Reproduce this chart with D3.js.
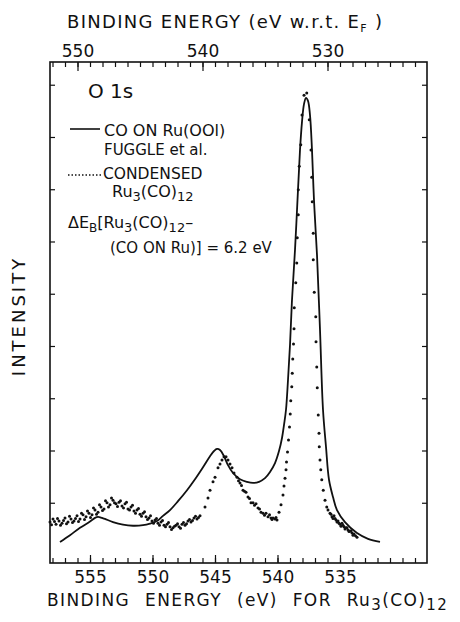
<!DOCTYPE html>
<html>
<head>
<meta charset="utf-8">
<script src="https://cdn.jsdelivr.net/npm/d3@7"></script>
<style>
  html, body { margin: 0; padding: 0; background: #fff; }
  svg { display: block; }
  text { font-family: "DejaVu Sans", sans-serif; fill: #111; }
</style>
</head>
<body>
<svg id="chart" width="460" height="622"></svg>
<script>
// ---- data (binding energy in eV on the Ru3(CO)12 scale, intensity in arb. units) ----
const bottomTickLabels = [555, 550, 545, 540, 535];
const topTickLabels = [550, 540, 530];
const intensityTicks = [1, 2, 3, 4, 5, 6, 7, 8, 9];
const energyShift = 6; // top axis (w.r.t. E_F) = bottom axis - 6 eV

// CO on Ru(001), Fuggle et al. (solid line)
const solidE = [557.40,556.60,555.80,555.00,554.60,554.36,554.04,553.80,553.16,552.36,551.56,550.76,550.20,549.64,549.16,548.60,547.96,547.24,546.60,545.96,545.40,545.08,544.84,544.60,544.28,543.96,543.56,543.00,542.44,541.96,541.48,541.00,540.60,540.20,539.88,539.64,539.48,539.32,539.16,539.00,538.84,538.60,538.36,538.20,538.04,537.88,537.72,537.56,537.40,537.24,537.08,536.84,536.60,536.36,536.12,535.88,535.56,535.24,534.60,533.64,532.76,531.80];
const solidI = [0.25,0.38,0.52,0.64,0.71,0.73,0.71,0.69,0.63,0.58,0.56,0.57,0.60,0.65,0.75,0.86,1.03,1.24,1.45,1.68,1.89,1.99,2.03,2.01,1.89,1.72,1.57,1.45,1.40,1.38,1.40,1.47,1.59,1.76,1.99,2.24,2.49,2.78,3.35,4.02,4.88,5.84,6.99,7.75,8.29,8.63,8.75,8.69,8.42,7.75,6.79,5.74,4.31,2.78,2.07,1.44,1.11,0.86,0.63,0.42,0.31,0.25];

// Condensed Ru3(CO)12 (data points)
const dotE = [558.20,557.96,557.72,557.48,557.24,557.00,556.76,556.52,556.28,556.04,555.80,555.56,555.32,555.08,554.84,554.60,554.36,554.12,553.88,553.64,553.40,553.16,552.92,552.68,552.44,552.20,551.96,551.72,551.48,551.24,551.00,550.76,550.52,550.28,550.04,549.80,549.56,549.32,549.08,548.84,548.60,548.36,548.12,547.88,547.64,547.40,547.16,546.92,546.68,546.44,546.20,545.80,545.56,545.40,545.16,545.00,544.76,544.60,544.44,544.28,544.12,543.96,543.80,543.64,543.48,543.24,543.00,542.76,542.52,542.36,542.12,541.96,541.72,541.56,541.32,541.16,540.92,540.76,540.52,540.36,540.20,540.04,539.88,539.72,539.56,539.48,539.40,539.32,539.28,539.20,539.12,539.04,538.98,538.94,538.86,538.82,538.78,538.72,538.68,538.66,538.54,538.46,538.42,538.34,538.34,538.26,538.14,538.04,537.88,537.66,537.46,537.32,537.26,537.22,537.14,537.14,537.06,536.94,536.92,536.86,536.82,536.74,536.68,536.66,536.60,536.54,536.46,536.34,536.20,536.06,535.96,535.80,535.64,535.48,535.32,535.16,535.00,534.84,534.68,534.52,534.36,534.20,534.04,533.88,533.64];
const dotI = [0.63,0.69,0.59,0.65,0.61,0.71,0.63,0.69,0.65,0.75,0.69,0.77,0.73,0.80,0.77,0.86,0.82,0.92,0.88,1.00,0.96,1.05,0.98,1.01,0.94,0.98,0.88,0.92,0.84,0.86,0.78,0.80,0.73,0.71,0.65,0.67,0.61,0.63,0.57,0.59,0.54,0.52,0.57,0.54,0.59,0.57,0.65,0.63,0.71,0.69,0.75,0.92,1.09,1.24,1.40,1.49,1.67,1.74,1.82,1.88,1.88,1.82,1.74,1.67,1.57,1.49,1.38,1.24,1.20,1.11,1.00,1.00,0.98,0.90,0.82,0.80,0.80,0.73,0.71,0.71,0.69,0.67,0.82,0.96,1.15,1.32,1.47,1.63,1.78,1.97,2.20,2.45,2.70,2.95,3.22,3.48,3.75,4.04,4.33,4.73,5.21,5.59,6.07,6.51,6.99,7.44,7.85,8.42,8.80,8.84,8.33,7.75,7.23,6.76,6.16,5.65,5.03,4.56,4.08,3.60,3.20,2.68,2.33,2.07,1.82,1.63,1.44,1.24,1.05,0.92,0.86,0.80,0.73,0.75,0.67,0.65,0.59,0.61,0.54,0.52,0.48,0.46,0.42,0.40,0.34];
// additional overlapping scans of the same sample (noisy regions)
const dotExtraE = [558.08,557.84,557.60,557.36,557.12,556.88,556.64,556.40,556.16,555.92,555.68,555.44,555.20,554.96,554.72,554.48,554.24,554.00,553.76,553.52,553.28,553.04,552.80,552.56,552.32,552.08,551.84,551.60,551.36,551.12,550.88,550.64,550.40,550.16,549.92,549.68,549.44,549.20,548.96,548.72,548.48,548.24,548.00,547.76,547.52,547.28,547.04,546.80,546.56,546.32,543.12,542.88,542.64,542.24,541.84,541.44,541.04,540.64,540.44,540.12,535.72,535.56,535.40,535.24,535.08,534.92,534.76,534.60,534.44,534.28,534.12,533.96,533.76];
const dotExtraI = [0.58,0.64,0.70,0.57,0.66,0.60,0.74,0.62,0.70,0.64,0.80,0.68,0.84,0.72,0.90,0.78,0.96,0.85,1.04,0.92,1.09,1.00,0.93,1.04,0.90,1.01,0.86,0.95,0.80,0.89,0.74,0.83,0.68,0.75,0.61,0.70,0.57,0.66,0.54,0.62,0.49,0.55,0.60,0.51,0.62,0.60,0.68,0.66,0.74,0.72,1.42,1.33,1.22,1.08,0.95,0.88,0.76,0.77,0.68,0.72,0.78,0.70,0.70,0.63,0.61,0.55,0.57,0.50,0.52,0.45,0.46,0.38,0.37];

// ---- layout ----
const svg = d3.select("#chart");
const plot = { left: 50, right: 427, top: 62, bottom: 563 };

const x = d3.scaleLinear().domain([558.2, 528.04]).range([plot.left, plot.right]);
const xTop = d3.scaleLinear().domain([558.2 - energyShift, 528.04 - energyShift]).range([plot.left, plot.right]);
const y = d3.scaleLinear().domain([-0.153, 9.435]).range([plot.bottom, plot.top]);

// frame
svg.append("rect")
  .attr("x", plot.left).attr("y", plot.top)
  .attr("width", plot.right - plot.left).attr("height", plot.bottom - plot.top)
  .attr("fill", "none").attr("stroke", "#111").attr("stroke-width", 1.6);

function styleAxis(g) {
  g.select(".domain").remove();
  g.selectAll(".tick line").attr("stroke", "#111").attr("stroke-width", 1.2);
  g.selectAll("text").style("font-family", "DejaVu Sans, sans-serif").style("font-size", "17px").attr("fill", "#111");
}

// bottom ticks
const bottomMinor = x.ticks(30).filter(v => v > 528.2 && v < 558.1);
svg.append("g").attr("transform", `translate(0,${plot.bottom})`)
  .call(d3.axisBottom(x).tickValues(bottomMinor).tickSize(-5).tickFormat(""))
  .call(styleAxis);
svg.append("g").attr("transform", `translate(0,${plot.bottom})`)
  .call(d3.axisBottom(x).tickValues(bottomTickLabels).tickSize(-8).tickPadding(8).tickFormat(d3.format("d")))
  .call(styleAxis);

// top ticks
const topMinor = xTop.ticks(30).filter(v => v > 522.2 && v < 552.1);
svg.append("g").attr("transform", `translate(0,${plot.top})`)
  .call(d3.axisTop(xTop).tickValues(topMinor).tickSize(-5).tickFormat(""))
  .call(styleAxis);
svg.append("g").attr("transform", `translate(0,${plot.top})`)
  .call(d3.axisTop(xTop).tickValues(topTickLabels).tickSize(-9).tickPadding(5).tickFormat(d3.format("d")))
  .call(styleAxis);

// left / right ticks
svg.append("g").attr("transform", `translate(${plot.left},0)`)
  .call(d3.axisLeft(y).tickValues(intensityTicks).tickSize(-5).tickFormat(""))
  .call(styleAxis);
svg.append("g").attr("transform", `translate(${plot.right},0)`)
  .call(d3.axisRight(y).tickValues(intensityTicks).tickSize(-5).tickFormat(""))
  .call(styleAxis);

// solid curve
const solid = solidE.map((e, i) => [e, solidI[i]]);
const line = d3.line().x(d => x(d[0])).y(d => y(d[1])).curve(d3.curveCatmullRom.alpha(0.5));
svg.append("path").datum(solid)
  .attr("d", line).attr("fill", "none").attr("stroke", "#111").attr("stroke-width", 1.8);

// dotted data
const dots = dotE.map((e, i) => [e, dotI[i]]).concat(dotExtraE.map((e, i) => [e, dotExtraI[i]]));
svg.append("g").selectAll("circle").data(dots).join("circle")
  .attr("cx", d => x(d[0])).attr("cy", d => y(d[1])).attr("r", 1.5).attr("fill", "#111");

// ---- texts ----
// parts: strings (normal) or {t, dy, size} (subscript)
function addText(xp, yp, parts, size, opts) {
  opts = opts || {};
  const t = svg.append("text").attr("x", xp).attr("y", yp)
    .attr("text-anchor", opts.anchor || "start").style("font-size", size + "px");
  if (opts.ls) t.style("letter-spacing", opts.ls + "px");
  if (opts.ws) t.style("word-spacing", opts.ws + "px");
  let offset = 0;
  parts.forEach(p => {
    const s = t.append("tspan");
    if (typeof p === "string") {
      if (offset) s.attr("dy", -offset);
      offset = 0;
      s.text(p);
    } else {
      const d = p.dy - offset;
      if (d) s.attr("dy", d);
      offset = p.dy;
      s.style("font-size", p.size + "px").text(p.t);
    }
  });
  return t;
}

// top title
addText(67, 28, ["BINDING ENERGY (eV w.r.t. E", {t: "F", dy: 4, size: 11}, " )"], 18, {ls: 1.3});
// bottom title
addText(47, 606, ["BINDING ENERGY (eV) FOR Ru", {t: "3", dy: 4, size: 15}, "(CO)", {t: "12", dy: 4, size: 15}], 17, {ls: 1.4, ws: 8});
// y label
svg.append("text").attr("transform", "translate(25,316) rotate(-90)")
  .attr("text-anchor", "middle").style("font-size", "18px").style("letter-spacing", "3px").text("INTENSITY");

// legend
addText(88, 98, ["O 1s"], 20);
svg.append("line").attr("x1", 70).attr("x2", 100).attr("y1", 129).attr("y2", 129)
  .attr("stroke", "#111").attr("stroke-width", 1.6);
addText(104, 136, ["CO ON Ru(OOl)"], 16);
addText(104, 155, ["FUGGLE et al."], 15);
svg.append("line").attr("x1", 68).attr("x2", 101).attr("y1", 175).attr("y2", 175)
  .attr("stroke", "#111").attr("stroke-width", 1.6).attr("stroke-dasharray", "1.5,2");
addText(103, 179, ["CONDENSED"], 15.5);
addText(112, 197, ["Ru", {t: "3", dy: 4, size: 13}, "(CO)", {t: "12", dy: 4, size: 13}], 16);
addText(68, 228, ["\u0394E", {t: "B", dy: 4, size: 12}, "[Ru", {t: "3", dy: 4, size: 13}, "(CO)", {t: "12", dy: 4, size: 13}, "\u2013"], 16);
addText(110, 253, ["(CO  ON  Ru)] = 6.2 eV"], 15);
</script>
</body>
</html>
